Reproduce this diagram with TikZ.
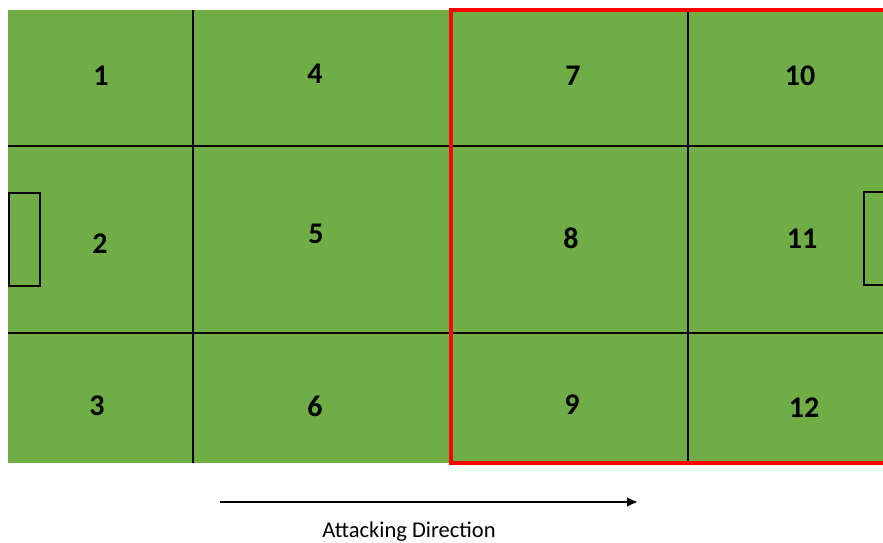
\documentclass[tikz,border=0pt]{standalone}
\usepackage{fontspec}
\setmainfont{Carlito}
\usetikzlibrary{arrows.meta}
\definecolor{pitch}{HTML}{70AD47}
\definecolor{zonered}{HTML}{FF0000}
\begin{document}
\begin{tikzpicture}[x=1pt,y=-1pt,
  zonenum/.style={font=\fontsize{30}{32}\selectfont\bfseries, text=black, inner sep=0pt},
  gridline/.style={black, line width=2pt},
  goalbox/.style={draw=black, line width=2pt},
  caption/.style={font=\fontsize{22.5}{25}\selectfont, inner sep=0pt}]
\useasboundingbox (0,0) rectangle (883,543);
\clip (0,0) rectangle (883,543);
\fill[pitch] (8,10) rectangle (895,463);
% grid
\draw[gridline] (193,10) -- (193,463);
\draw[gridline] (688,10) -- (688,463);
\draw[gridline] (8,146) -- (895,146);
\draw[gridline] (8,333) -- (895,333);
% goals
\draw[goalbox] (9,193) rectangle (40,286);
\draw[goalbox] (864,192) rectangle (895,285);
% red attacking half
\draw[zonered, line width=3.2pt] (451,10) rectangle (895,463);
% numbers
\node[zonenum] (z1) at (101,76) {1};
\node[zonenum] (z4) at (315,74) {4};
\node[zonenum] (z7) at (573,76) {7};
\node[zonenum] (z10) at (800,76) {10};
\node[zonenum] (z2) at (100,244) {2};
\node[zonenum] (z5) at (316,234) {5};
\node[zonenum] (z8) at (571,238) {8};
\node[zonenum] (z11) at (802,239) {11};
\node[zonenum] (z3) at (97,406) {3};
\node[zonenum] (z6) at (315,406) {6};
\node[zonenum] (z9) at (572,405) {9};
\node[zonenum] (z12) at (804,408) {12};
% arrow
\coordinate (a0) at (220,502);
\coordinate (a1) at (638,502);
\draw[black, line width=2.8pt, -{Latex[length=11pt,width=10pt]}] (a0) -- (a1);
\node[caption] (cap) at (409,532) {Attacking Direction};
\end{tikzpicture}
\end{document}
